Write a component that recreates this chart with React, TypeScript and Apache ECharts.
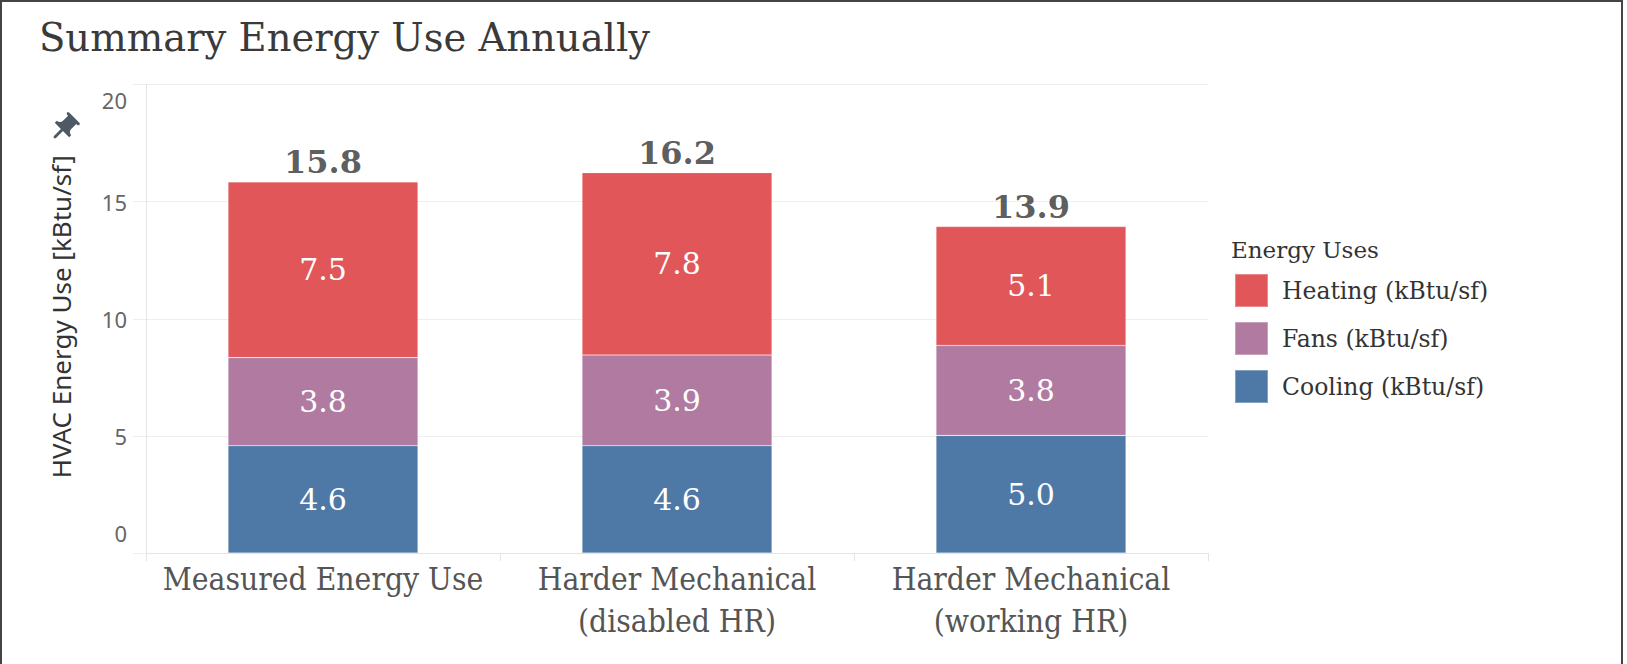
import React, { useEffect, useRef } from "react";
import * as echarts from "echarts";

// Annual HVAC energy use per scenario, kBtu/sf
const categories = [
  "Measured Energy Use",
  "Harder Mechanical\n(disabled HR)",
  "Harder Mechanical\n(working HR)",
];
const cooling = [4.58, 4.58, 5.02];
const fans = [3.76, 3.87, 3.84];
const heating = [7.5, 7.79, 5.08];
const seriesNames = ["Heating (kBtu/sf)", "Fans (kBtu/sf)", "Cooling (kBtu/sf)"];
const colors = { heating: "#e15759", fans: "#b07aa1", cooling: "#4e79a7" };

const SERIF = "'DejaVu Serif', serif";
const SERIF_COND = "'DejaVu Serif Condensed', 'DejaVu Serif', serif";
const SANS = "'Noto Sans', 'DejaVu Sans', sans-serif";

// Material-style push pin outline
const PIN_D =
  "M16 9V4h1c.55 0 1-.45 1-1s-.45-1-1-1H7c-.55 0-1 .45-1 1s.45 1 1 1h1v5c0 1.66-1.34 3-3 3v2h5.97v7l1 1 1-1v-7H19v-2c-1.66 0-3-1.34-3-3z";
let pinRegistered = false;
function registerPin() {
  if (pinRegistered) return;
  echarts.graphic.registerShape("pin", echarts.graphic.extendPath(PIN_D, {}));
  pinRegistered = true;
}

export default function App() {
  const ref = useRef<HTMLDivElement>(null);

  useEffect(() => {
    if (!ref.current) return;
    registerPin();
    const chart = echarts.init(ref.current, undefined, { renderer: "svg" });

    const totals = categories.map((_, i) => cooling[i] + fans[i] + heating[i]);
    const fmt = (p: any) => Number(Array.isArray(p.value) ? p.value[1] : p.value).toFixed(1);

    const segLabel = {
      show: true,
      position: "inside" as const,
      color: "#ffffff",
      fontSize: 30,
      fontFamily: SERIF,
      formatter: fmt,
    };
    const segItem = (c: string) => ({
      color: c,
      borderColor: "rgba(255,255,255,0.3)",
      borderWidth: 0.6,
    });

    chart.setOption({
      animation: false,
      backgroundColor: "#ffffff",
      title: [
        {
          text: "Summary Energy Use Annually",
          left: 39,
          top: 18,
          padding: 0,
          textStyle: { fontSize: 38.5, fontWeight: "normal", color: "#3a3a3a", fontFamily: SERIF },
        },
        {
          text: "Energy Uses",
          left: 1231,
          top: 238,
          padding: 0,
          textStyle: { fontSize: 23, fontWeight: "normal", color: "#333333", fontFamily: SERIF },
        },
      ],
      legend: {
        data: seriesNames,
        orient: "vertical",
        left: 1234,
        top: 273,
        padding: 0,
        itemWidth: 33,
        itemHeight: 33,
        itemGap: 13,
        icon: "rect",
        selectedMode: false,
        textStyle: { fontSize: 23.5, color: "#333333", fontFamily: SERIF, padding: [0, 0, 0, 9] },
      },
      grid: { left: 146, right: 419, top: 84.5, bottom: 111, containLabel: false, outerBoundsMode: "none" },
      xAxis: {
        type: "category",
        data: categories,
        boundaryGap: true,
        axisLine: { show: true, lineStyle: { color: "#e4e4e4", width: 1 } },
        axisTick: { show: true, length: 8, alignWithLabel: false, lineStyle: { color: "#e4e4e4" } },
        axisLabel: {
          interval: 0,
          margin: 5,
          fontSize: 31.5,
          lineHeight: 42,
          color: "#555555",
          fontFamily: SERIF_COND,
        },
      },
      yAxis: {
        type: "value",
        min: 0,
        max: 20,
        interval: 5,
        name: "HVAC Energy Use [kBtu/sf]",
        nameLocation: "middle",
        nameRotate: 90,
        nameGap: 72,
        nameTextStyle: { fontSize: 26, color: "#333333", fontFamily: SANS, padding: [0, 0, 0, 4] },
        axisLine: { show: true, lineStyle: { color: "#e4e4e4", width: 1 } },
        axisTick: { show: true, length: 13, lineStyle: { color: "#eeeeee" } },
        splitLine: { show: true, lineStyle: { color: "#eeeeee", width: 1 } },
        axisLabel: {
          margin: 19,
          color: "#666666",
          fontSize: 22,
          fontFamily: SANS,
          formatter: (v: number) => (v === 20 ? `{top|${v}}` : v === 0 ? `{bot|${v}}` : `{n|${v}}`),
          rich: {
            top: { fontSize: 22, color: "#666666", fontFamily: SANS, padding: [31, 0, 0, 0] },
            bot: { fontSize: 22, color: "#666666", fontFamily: SANS, padding: [0, 0, 40, 0] },
            n: { fontSize: 22, color: "#666666", fontFamily: SANS },
          },
        },
      },
      series: [
        {
          name: seriesNames[2],
          type: "bar",
          stack: "total",
          barWidth: 190,
          data: cooling,
          itemStyle: segItem(colors.cooling),
          label: segLabel,
          emphasis: { disabled: true },
        },
        {
          name: seriesNames[1],
          type: "bar",
          stack: "total",
          barWidth: 190,
          data: fans,
          itemStyle: segItem(colors.fans),
          label: segLabel,
          emphasis: { disabled: true },
        },
        {
          name: seriesNames[0],
          type: "bar",
          stack: "total",
          barWidth: 190,
          data: heating,
          itemStyle: segItem(colors.heating),
          label: segLabel,
          emphasis: { disabled: true },
        },
        {
          name: "Total",
          type: "scatter",
          data: totals,
          symbolSize: 1,
          silent: true,
          itemStyle: { color: "rgba(0,0,0,0)" },
          label: {
            show: true,
            position: "top",
            distance: 3,
            color: "#333333",
            fontSize: 32,
            fontWeight: "bold",
            fontFamily: SERIF,
            formatter: fmt,
          },
          emphasis: { disabled: true },
        },
      ],
      graphic: [
        {
          type: "rect",
          silent: true,
          shape: { x: 1, y: 1, width: 1621, height: 700 },
          style: { fill: "none", stroke: "#444444", lineWidth: 2 },
        },
        {
          type: "pin",
          x: 64 - 12,
          y: 128 - 12,
          originX: 12,
          originY: 12,
          rotation: -Math.PI / 4,
          scaleX: 1.45,
          scaleY: 1.45,
          silent: true,
          style: { fill: "#4f5966" },
        },
      ],
    });

    return () => chart.dispose();
  }, []);

  return (
    <div
      ref={ref}
      style={{ position: "fixed", left: 0, top: 0, width: 1627, height: 664 }}
    />
  );
}
